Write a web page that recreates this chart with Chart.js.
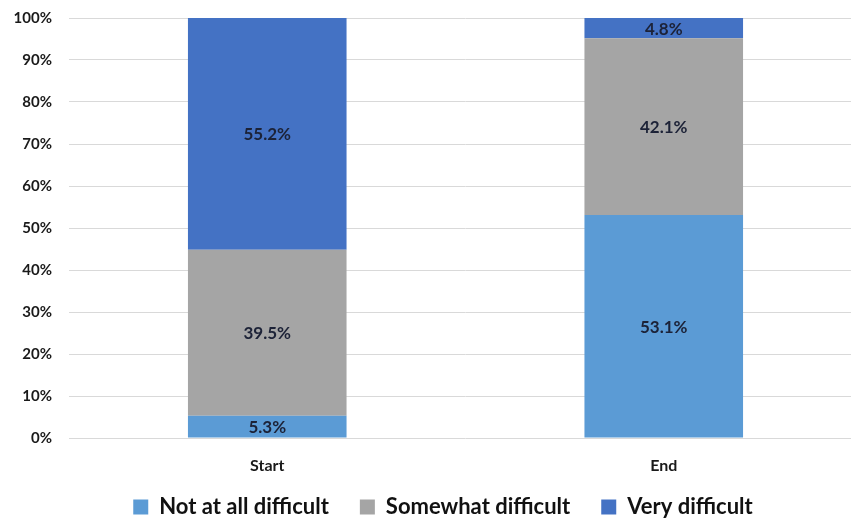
<!DOCTYPE html>
<html>
<head>
<meta charset="utf-8">
<script src="https://cdn.jsdelivr.net/npm/chart.js@4.4.1/dist/chart.umd.min.js"></script>
<style>
  html, body { margin: 0; padding: 0; background: #ffffff; overflow: hidden; }
  #wrap { width: 862px; height: 519px; }
</style>
</head>
<body>
<div id="wrap"><canvas id="chart" width="862" height="519"></canvas></div>
<script>
// Share of respondents by perceived difficulty (percent)
const categories = ['Start', 'End'];
const notAtAllDifficult = [5.3, 53.1];
const somewhatDifficult = [39.5, 42.1];
const veryDifficult = [55.2, 4.8];
const seriesNames = ['Not at all difficult', 'Somewhat difficult', 'Very difficult'];
const yTicks = [0, 10, 20, 30, 40, 50, 60, 70, 80, 90, 100];

const FONT = 'Lato, "Open Sans", sans-serif';
const Y_TICK_FONT = 'bold 15px ' + FONT;

// Width of the widest y label, used to right-align the mirrored labels
const measureCtx = document.createElement('canvas').getContext('2d');
measureCtx.font = Y_TICK_FONT;
const widestY = Math.max(...yTicks.map(v => measureCtx.measureText(v + '%').width));

// Writes each segment's value in the middle of its bar piece
const segmentLabels = {
  id: 'segmentLabels',
  afterDatasetsDraw(chart) {
    const ctx = chart.ctx;
    ctx.save();
    ctx.font = 'bold 17px ' + FONT;
    ctx.fillStyle = '#1c2237';
    ctx.textAlign = 'center';
    ctx.textBaseline = 'middle';
    chart.data.datasets.forEach((ds, i) => {
      const meta = chart.getDatasetMeta(i);
      meta.data.forEach((bar, j) => {
        const p = bar.getCenterPoint();
        ctx.fillText(ds.data[j].toFixed(1) + '%', p.x, p.y + 1);
      });
    });
    ctx.restore();
  }
};

new Chart(document.getElementById('chart'), {
  type: 'bar',
  data: {
    labels: categories,
    datasets: [
      { label: seriesNames[0], data: notAtAllDifficult, backgroundColor: '#5b9bd5' },
      { label: seriesNames[1], data: somewhatDifficult, backgroundColor: '#a5a5a5' },
      { label: seriesNames[2], data: veryDifficult, backgroundColor: '#4472c4' }
    ]
  },
  options: {
    responsive: false,
    animation: false,
    layout: { padding: { top: 18, left: 24, right: 0, bottom: 0 } },
    datasets: { bar: { categoryPercentage: 1, barPercentage: 0.4, borderWidth: 0 } },
    plugins: {
      tooltip: { enabled: false },
      legend: {
        position: 'bottom',
        maxHeight: 54,
        labels: {
          font: { family: FONT, size: 22, weight: 'bold' },
          color: '#111111',
          boxWidth: 15,
          boxHeight: 15,
          padding: 31
        }
      }
    },
    scales: {
      x: {
        stacked: true,
        grid: { display: false, drawTicks: false },
        border: { display: false },
        // mirrored so the labels are not clipped to the short axis box
        ticks: { font: { family: FONT, size: 16, weight: 'bold' }, color: '#1a1a1a', mirror: true, padding: -37 },
        afterFit(s) { s.height = 27; }
      },
      y: {
        stacked: true,
        min: 0,
        max: 100,
        afterBuildTicks(s) { s.ticks = yTicks.map(v => ({ value: v })); },
        grid: { color: '#d9d9d9', lineWidth: 1, drawTicks: false },
        border: { display: false },
        ticks: {
          font: { family: FONT, size: 15, weight: 'bold' },
          color: '#1a1a1a',
          mirror: true,
          crossAlign: 'far',
          padding: -17 - widestY,
          callback: v => v + '%'
        },
        afterFit(s) { s.width = 45; }
      }
    }
  },
  plugins: [segmentLabels]
});
</script>
</body>
</html>
